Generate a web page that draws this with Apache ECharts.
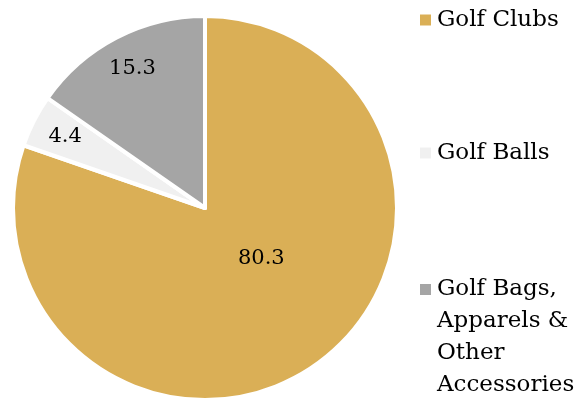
<!DOCTYPE html>
<html>
<head>
<meta charset="utf-8">
<script src="https://cdn.jsdelivr.net/npm/echarts@6/dist/echarts.min.js"></script>
<style>
html,body{margin:0;padding:0;background:#fff;}
#chart{width:579px;height:401px;}
</style>
</head>
<body>
<div id="chart"></div>
<script>
const categories = ['Golf Clubs', 'Golf Balls', 'Golf Bags, Apparels & Other Accessories'];
const values = [80.3, 4.4, 15.3];
const legendText = ['Golf Clubs', 'Golf Balls', 'Golf Bags,\nApparels &\nOther\nAccessories'];

const palette = ['#DAAF56', '#F0F0F0', '#A5A5A5'];
const FONT = 'DejaVu Serif';
const chart = echarts.init(document.getElementById('chart'), null, {renderer: 'canvas'});

const baseData = categories.map((c, i) => ({name: c, value: values[i], itemStyle: {color: palette[i]}}));

function labelSeries(radius, showIdx, nudge) {
  return {
    type: 'pie',
    center: [205, 208],
    radius: radius,
    startAngle: 90,
    silent: true,
    animation: false,
    emphasis: {disabled: true},
    itemStyle: {color: 'transparent', borderWidth: 0},
    labelLine: {show: false},
    labelLayout: nudge,
    data: categories.map((c, i) => ({
      name: c, value: values[i],
      itemStyle: {color: 'transparent'},
      label: {show: showIdx.includes(i)}
    })),
    label: {
      position: 'inside',
      formatter: p => p.value.toFixed(1),
      color: '#000',
      fontFamily: FONT,
      fontSize: 21
    }
  };
}

const legendTops = [4, 137, 177.5];
const legends = categories.map((c, i) => ({
  data: [c],
  orient: 'vertical',
  left: 418,
  top: legendTops[i],
  padding: 0,
  icon: 'rect',
  itemWidth: 13,
  itemHeight: 13,
  selectedMode: false,
  formatter: () => (i === 2 ? '\n\n\n' : '') + legendText[i],
  textStyle: {fontFamily: FONT, fontSize: 23, color: '#000', lineHeight: 32}
}));

chart.setOption({
  animation: false,
  legend: legends,
  series: [
    {
      type: 'pie',
      center: [205, 208],
      radius: 192,
      startAngle: 90,
      clockwise: true,
      animation: false,
      itemStyle: {borderColor: '#fff', borderWidth: 4},
      label: {show: false},
      labelLine: {show: false},
      emphasis: {disabled: true},
      data: baseData
    },
    labelSeries([0, 140], [0], {dx: 14, dy: -9}),
    labelSeries([116, 192], [1, 2], null)
  ]
});
</script>
</body>
</html>
